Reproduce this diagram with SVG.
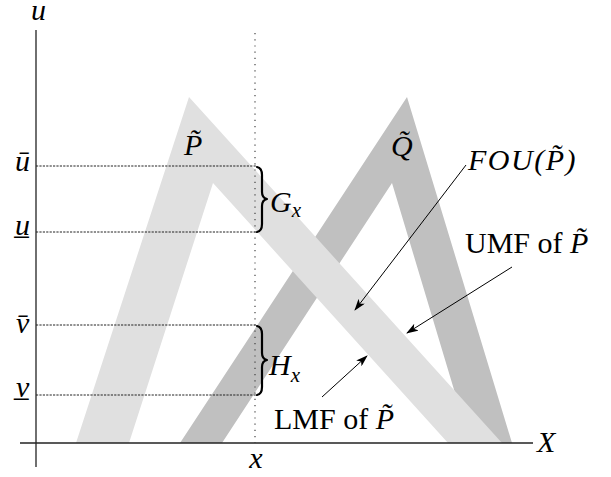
<svg xmlns="http://www.w3.org/2000/svg" width="611" height="477" viewBox="0 0 611 477">
<defs>
<style>
text{font-family:'Liberation Serif','Times New Roman',Times,serif;font-size:30px;fill:#000}
.i{font-style:italic}
.sub{font-size:21px}
.axis{stroke:#222;stroke-width:1.3;fill:none}
.dash{stroke:#222;stroke-width:1;stroke-dasharray:2.2,1.2;fill:none}
.dot{stroke:#333;stroke-width:1.1;stroke-dasharray:1.2,5;fill:none}
.arr{stroke:#000;stroke-width:1;fill:none;marker-end:url(#ah)}
.brace{stroke:#000;stroke-width:2.2;fill:none;stroke-linecap:round;stroke-linejoin:round}
</style>
<marker id="ah" viewBox="0 0 12 8" refX="11" refY="4" markerWidth="12" markerHeight="8" markerUnits="userSpaceOnUse" orient="auto">
<path d="M0,0 L12,4 L0,8 L3,4 Z" fill="#000"/>
</marker>
</defs>
<rect width="611" height="477" fill="#fff"/>
<g id="Q">
<polygon points="180,443 407,97 512,443 470,443 392,183 222,443" fill="#c0c0c0"/>
</g>
<g id="P">
<polygon points="76,443 189,97 502,443 448,443 213,183 129,443" fill="#e0e0e0"/>
</g>
<g id="axes" font-family="Liberation Serif, serif">
<line class="axis" x1="36" y1="30" x2="36" y2="467"/>
<line class="axis" x1="20" y1="443" x2="533" y2="443"/>
<line class="dot" x1="255" y1="33" x2="255" y2="443"/>
<line class="dash" x1="36" y1="166" x2="256" y2="166"/>
<line class="dash" x1="36" y1="232" x2="256" y2="232"/>
<line class="dash" x1="36" y1="325" x2="256" y2="325"/>
<line class="dash" x1="36" y1="395" x2="256" y2="395"/>
<text class="i" x="31" y="20">u</text>
<text class="i" x="15" y="171">ū</text>
<text class="i" x="15" y="235">u̲</text>
<text class="i" x="16" y="333">v̄</text>
<text class="i" x="16" y="397">v̲</text>
<text class="i" x="256" y="468" text-anchor="middle">x</text>
<text class="i" x="537" y="452">X</text>
</g>
<g id="labelP"><text class="i" x="184" y="155">P̃</text></g>
<g id="labelQ"><text class="i" x="391" y="156">Q̃</text></g>
<g id="Gx">
<path class="brace" d="M257,167 Q262,168 262,175 L262,192 Q262,198 267,199 Q262,200 262,206 L262,224 Q262,231 257,232"/>
<text class="i" x="270" y="212">G<tspan class="sub" dy="5">x</tspan></text>
</g>
<g id="Hx">
<path class="brace" d="M257,326 Q262,327 262,334 L262,353 Q262,359 267,360 Q262,361 262,367 L262,387 Q262,394 257,395"/>
<text class="i" x="269" y="375">H<tspan class="sub" dy="7">x</tspan></text>
</g>
<g id="FOU"><text class="i" x="468" y="170" letter-spacing="1.5">FOU(P̃)</text></g>
<g id="UMF"><text x="465" y="253">UMF of <tspan class="i">P̃</tspan></text></g>
<g id="LMF"><text x="274" y="429">LMF of <tspan class="i">P̃</tspan></text></g>
<g id="connectors">
<line class="arr" x1="466" y1="165" x2="355" y2="310"/>
<line class="arr" x1="512" y1="267" x2="407" y2="333"/>
<line class="arr" x1="322" y1="397" x2="367" y2="356"/>
</g>
</svg>
